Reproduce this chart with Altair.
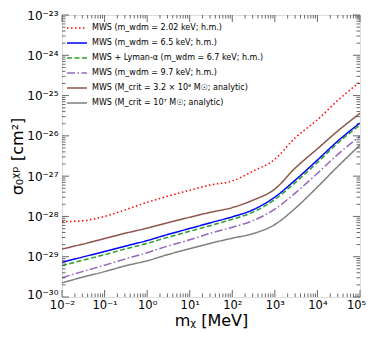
import altair as alt
import pandas as pd

# --- data (x in MeV, y as log10 of sigma in cm^2) ---
mass_mev = [1e-2, 3e-2, 1e-1, 3e-1, 1, 3, 10, 30, 100, 300, 1e3, 3e3, 1e4, 3e4, 1e5]

log_red = [-28.13, -28.11, -28.00, -27.84, -27.65, -27.50, -27.35, -27.22, -27.12,
           -26.88, -26.58, -26.05, -25.60, -25.12, -24.66]
log_blue = [-29.14, -29.01, -28.87, -28.74, -28.60, -28.45, -28.30, -28.16, -28.01,
            -27.84, -27.52, -27.10, -26.60, -26.13, -25.68]
log_green = [-29.22, -29.09, -28.95, -28.81, -28.67, -28.52, -28.37, -28.23, -28.07,
             -27.90, -27.58, -27.16, -26.66, -26.18, -25.73]
log_purple = [-29.52, -29.37, -29.21, -29.06, -28.90, -28.74, -28.58, -28.42, -28.27,
              -28.11, -27.82, -27.42, -26.93, -26.46, -26.01]
log_brown = [-28.81, -28.69, -28.55, -28.42, -28.29, -28.16, -28.02, -27.90, -27.78,
             -27.60, -27.32, -26.80, -26.32, -25.88, -25.44]
log_gray = [-29.65, -29.51, -29.37, -29.23, -29.10, -28.95, -28.80, -28.67, -28.54,
            -28.43, -28.20, -27.80, -27.27, -26.76, -26.23]

labels = [
    "MWS (m_wdm = 2.02 keV; h.m.)",
    "MWS (m_wdm = 6.5 keV; h.m.)",
    "MWS + Lyman-α (m_wdm = 6.7 keV; h.m.)",
    "MWS (m_wdm = 9.7 keV; h.m.)",
    "MWS (M_crit = 3.2 × 10⁸ M☉; analytic)",
    "MWS (M_crit = 10⁷ M☉; analytic)",
]
series = [log_red, log_blue, log_green, log_purple, log_brown, log_gray]
colors = ["#ff0000", "#0000ff", "#2ca02c", "#9467bd", "#8c564b", "#808080"]
dashes = [[1.5, 2.5], [1, 0], [5, 2.5], [8, 2.5, 1.5, 2.5], [1, 0], [1, 0]]

x_decades = [1e-2, 1e-1, 1e0, 1e1, 1e2, 1e3, 1e4, 1e5]
y_decades = [1e-30, 1e-29, 1e-28, 1e-27, 1e-26, 1e-25, 1e-24, 1e-23]

rows = []
for lab, ys in zip(labels, series):
    for m, e in zip(mass_mev, ys):
        rows.append({"m": m, "sigma": 10.0 ** e, "model": lab})
df = pd.DataFrame(rows)

x_minor = [k * d for d in x_decades[:-1] for k in range(2, 10)]
y_minor = [k * d for d in y_decades[:-1] for k in range(2, 10)]

W, H = 298, 282
TC = "#444444"
FONT = "DejaVu Sans"

x_scale = alt.Scale(type="log", domain=[1e-2, 1e5], nice=False)
y_scale = alt.Scale(type="log", domain=[1e-30, 1e-23], nice=False)

sup = "'' + round(log(datum.value)/LN10)"
for a, b in [("-", "⁻"), ("0", "⁰"), ("1", "¹"), ("2", "²"), ("3", "³"), ("4", "⁴"),
             ("5", "⁵"), ("6", "⁶"), ("7", "⁷"), ("8", "⁸"), ("9", "⁹")]:
    sup = f"replace({sup}, '{a}', '{b}')"
label_expr = "'10' + " + sup

x_axis = alt.Axis(values=x_decades, labelExpr=label_expr, ticks=False, domain=False,
                  grid=False, title="mᵪ   [MeV]", titleFontSize=16,
                  titleFontWeight="normal", titlePadding=2, labelFontSize=11.5,
                  labelPadding=2, labelColor="black", labelFlush=False,
                  labelOffset={"condition": {"test": "datum.value > 50000", "value": -4},
                               "value": 0},
                  titleColor="black")
y_axis = alt.Axis(values=y_decades, labelExpr=label_expr, ticks=False, domain=False,
                  grid=False, title="σ₀ᵡᵖ  [cm²]", titleFontSize=16,
                  titleFontWeight="normal", titlePadding=1, labelFontSize=12,
                  labelPadding=4, labelColor="black", labelFlush=False,
                  labelOffset={"condition": {"test": "datum.value < 2e-30", "value": -3},
                               "value": 0},
                  titleColor="black")

legend = alt.Legend(title=None, orient="none", legendX=4, legendY=2,
                    symbolType="stroke", symbolSize=400, symbolStrokeWidth=1.5,
                    labelFontSize=8, labelLimit=400, rowPadding=-4, labelColor="black")

lines = alt.Chart(df).mark_line(strokeWidth=1.5, interpolate="monotone", clip=True).encode(
    x=alt.X("m:Q", scale=x_scale, axis=x_axis),
    y=alt.Y("sigma:Q", scale=y_scale, axis=y_axis),
    color=alt.Color("model:N", scale=alt.Scale(domain=labels, range=colors), legend=legend),
    strokeDash=alt.StrokeDash("model:N", scale=alt.Scale(domain=labels, range=dashes),
                              legend=legend),
    order=alt.Order("model:N"),
)


def xticks(vals, length, top):
    y0 = 0 if top else H
    y1 = length if top else H - length
    return alt.Chart(pd.DataFrame({"v": vals})).mark_rule(color=TC, strokeWidth=0.8).encode(
        x=alt.X("v:Q", scale=x_scale, axis=x_axis), y=alt.value(y0), y2=alt.value(y1))


def yticks(vals, length, right):
    x0 = W if right else 0
    x1 = W - length if right else length
    return alt.Chart(pd.DataFrame({"v": vals})).mark_rule(color=TC, strokeWidth=0.8).encode(
        y=alt.Y("v:Q", scale=y_scale, axis=y_axis), x=alt.value(x0), x2=alt.value(x1))


ticks = [
    xticks(x_decades, 7, False), xticks(x_minor, 3.5, False),
    xticks(x_decades, 7, True), xticks(x_minor, 3.5, True),
    yticks(y_decades, 7, False), yticks(y_minor, 3.5, False),
    yticks(y_decades, 7, True), yticks(y_minor, 3.5, True),
]

chart = alt.layer(lines, *ticks).properties(
    width=W, height=H,
    autosize=alt.AutoSizeParams(type="none"),
    padding={"left": 54, "top": 7, "right": 6, "bottom": 33},
).configure_view(stroke=TC, strokeWidth=1).configure(font=FONT)

chart.save("out.html", embed_options={"renderer": "svg", "actions": False})
